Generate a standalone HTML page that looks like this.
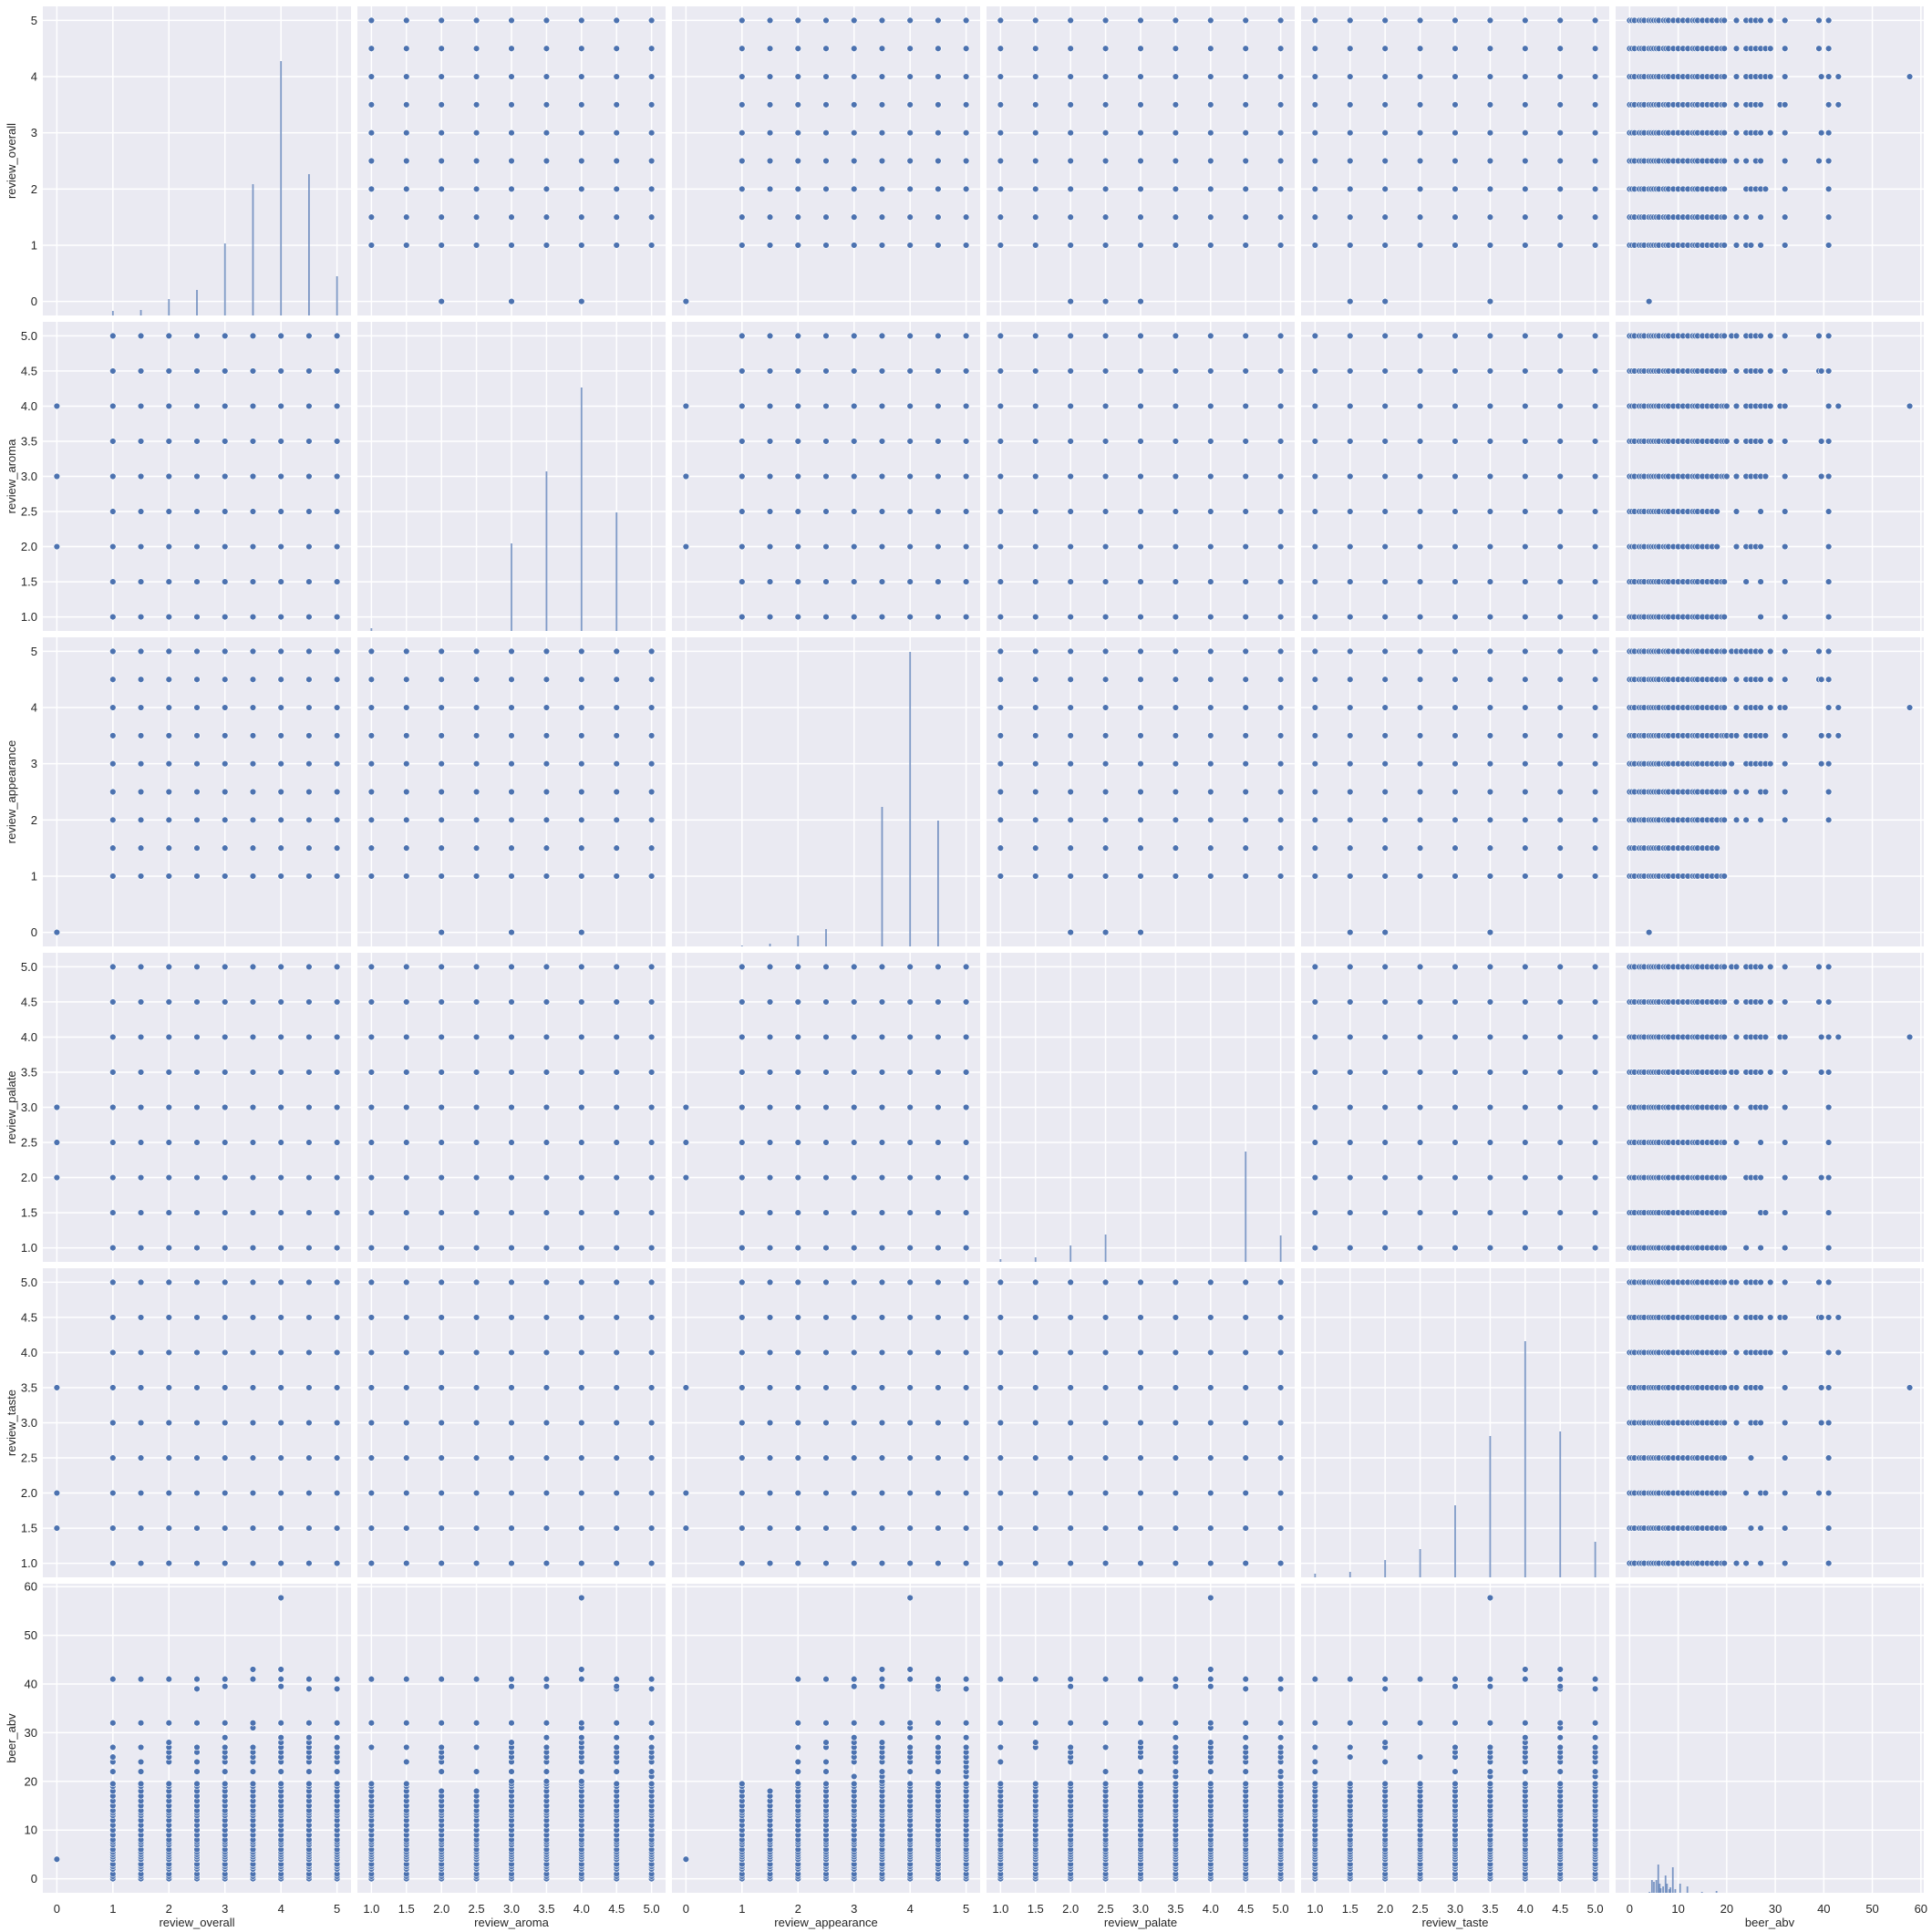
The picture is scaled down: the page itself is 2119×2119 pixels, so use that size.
<!DOCTYPE html>
<html><head><meta charset="utf-8">
<style>
html,body{margin:0;padding:0;background:#fff;}
svg{display:block;}
text{font-family:"Liberation Sans",sans-serif;fill:#262626;}
</style></head>
<body>
<svg id="chart" width="2119" height="2119" viewBox="0 0 2119 2119" xmlns="http://www.w3.org/2000/svg"></svg>
<script>
const varNames = ['review_overall','review_aroma','review_appearance','review_palate','review_taste','beer_abv'];
const domains = [[-0.25,5.25],[0.8,5.2],[-0.25,5.25],[0.8,5.2],[0.8,5.2],[-2.885,60.6]];
const tickVals = [[0,1,2,3,4,5],[1,1.5,2,2.5,3,3.5,4,4.5,5],[0,1,2,3,4,5],[1,1.5,2,2.5,3,3.5,4,4.5,5],[1,1.5,2,2.5,3,3.5,4,4.5,5],[0,10,20,30,40,50,60]];
const tickLabels = [['0','1','2','3','4','5'],['1.0','1.5','2.0','2.5','3.0','3.5','4.0','4.5','5.0'],['0','1','2','3','4','5'],['1.0','1.5','2.0','2.5','3.0','3.5','4.0','4.5','5.0'],['1.0','1.5','2.0','2.5','3.0','3.5','4.0','4.5','5.0'],['0','10','20','30','40','50','60']];
const ratingLevels = [1,1.5,2,2.5,3,3.5,4,4.5,5];
const zeroPairs = [
 [0,1,[[0,2],[0,3],[0,4]]],
 [0,2,[[0,0]]],
 [0,3,[[0,2],[0,2.5],[0,3]]],
 [0,4,[[0,1.5],[0,2],[0,3.5]]],
 [2,1,[[0,2],[0,3],[0,4]]],
 [2,3,[[0,2],[0,2.5],[0,3]]],
 [2,4,[[0,1.5],[0,2],[0,3.5]]]
];
const abvBase = [0,0.5,1,2,2.5,3,4,4.5,5,5.5,6,7,7.5,8,9,10,11,12,13,13.5,14,15,16,17,18,19,19.5];
const abvCap = [
 [20,20,19.5,19.5,20,20,20,20,20],
 [19.5,19.5,18.5,18.5,20,20,20,20,20],
 [19.5,18,20,19.5,20,20,20,20,20],
 [20,19.5,19.5,19.5,20,20,20,20,20],
 [20,20,20,19.5,20,20,20,20,20]
];
const abvExtras = [
 [[22,24,25,27,32,41],[22,24,27,32,41],[24,25,26,27,28,32,41],[22,24,26,27,32,39,41],[22,24,25,26,27,29,32,39.5,41],[22,24,25,26,27,31,32,41,43],[22,24,25,26,27,28,29,32,39.5,41,43,57.7],[22,24,25,26,27,28,29,32,39,41],[22,24,25,26,27,29,32,39,41]],
 [[27,32,41],[24,27,32,41],[22,24,25,26,27,32,41],[22,27,32,41],[20,22,24,25,26,27,28,32,39.5,41],[20,22,24,25,26,27,29,32,39.5,41],[20,22,24,25,26,27,28,29,31,32,41,43,57.7],[22,24,25,26,27,29,32,39,39.5,41],[21,22,24,25,26,27,29,32,39,41]],
 [[],[],[22,24,27,32,41],[22,24,27,28,32,41],[21,24,25,26,27,28,29,32,39.5,41],[20,21,22,24,25,26,27,28,32,39.5,41,43],[22,24,25,26,27,29,31,32,41,43,57.7],[22,24,25,26,27,29,32,39,39.5,41],[21,22,23,24,25,26,27,29,32,39,41]],
 [[24,27,32,41],[27,28,32,41],[24,25,26,27,32,39.5,41],[22,27,32,41],[22,25,26,27,28,32,41],[21,22,24,25,26,27,29,32,39.5,41],[22,24,25,26,27,28,31,32,39.5,41,43,57.7],[22,24,25,26,27,29,32,39,41],[21,22,24,25,26,27,29,32,39,41]],
 [[22,24,27,32,41],[25,27,32,41],[24,27,28,32,39,41],[25,32,41],[22,25,26,27,32,39.5,41],[21,22,24,25,26,27,32,39.5,41,57.7],[22,24,25,26,27,28,29,32,41,43],[22,24,25,26,27,29,31,32,39,39.5,41,43],[21,22,24,25,26,27,29,32,39,41]]
];
const abvZero = [[0,4],[2,4]];
const histX = [
 [1,1.5,2,2.5,3,3.5,4,4.5,5],
 [1,3,3.5,4,4.5],
 [1,1.5,2,2.5,3.5,4,4.5],
 [1,1.5,2,2.5,4.5,5],
 [1,1.5,2,2.5,3,3.5,4,4.5,5],
 [4.1,4.6,5,5.5,5.9,6.2,6.4,6.9,7.4,7.7,8.2,8.4,8.9,9.4,10.4,11.9,14.9,17.9]
];
const histCounts = [
 [5,6,18,28,79,144,279,155,43],
 [3,96,175,267,130],
 [1,3,12,19,153,323,138],
 [3,5,18,30,121,29],
 [4,6,19,31,79,155,259,160,39],
 [1,14,12,14,31,10,5,7,19,10,4,6,28,4,10,7,1,2]
];
const histMax = 339;

const NS = 'http://www.w3.org/2000/svg';
const svg = document.getElementById('chart');
const colX = [47,392,737,1082,1427,1772], PW = 338;
const rowY = [7,353,699,1045,1391,1737], PH = 339;
function mk(tag, attrs, parent){ const e=document.createElementNS(NS,tag); for(const k in attrs) e.setAttribute(k,attrs[k]); (parent||svg).appendChild(e); return e; }
function sx(c,v){ const d=domains[c]; return colX[c] + (v-d[0])/(d[1]-d[0])*PW; }
function sy(r,v){ const d=domains[r]; return rowY[r] + PH - (v-d[0])/(d[1]-d[0])*PH; }
function hy(r,v){ return rowY[r] + PH - v/histMax*PH; }

const panels = [];
for(let r=0;r<6;r++){ panels.push([]); for(let c=0;c<6;c++){
  const g = mk('g',{});
  
  
  const bg = mk('rect',{x:colX[c],y:rowY[r],width:PW,height:PH,fill:'#eaeaf2'},g);
  
  
  tickVals[c].forEach(v=>{ mk('line',{x1:sx(c,v),x2:sx(c,v),y1:rowY[r],y2:rowY[r]+PH,stroke:'#fff','stroke-width':1.5},g); });
  tickVals[r].forEach(v=>{ mk('line',{x1:colX[c],x2:colX[c]+PW,y1:sy(r,v),y2:sy(r,v),stroke:'#fff','stroke-width':1.5},g); });
  panels[r].push(g);
}}
function dot(r,c,xv,yv){
  const e = mk('circle',{cx:sx(c,xv),cy:sy(r,yv),r:3.4,fill:'#4c72b0',stroke:'#fff','stroke-width':0.6},panels[r][c]);
  
  
}
for(let r=0;r<5;r++) for(let c=0;c<5;c++){
  if(r===c) continue;
  ratingLevels.forEach(yv=>ratingLevels.forEach(xv=>dot(r,c,xv,yv)));
}
zeroPairs.forEach(([a,b,pts])=>{
  pts.forEach(([va,vb])=>{ dot(a,b,vb,va); dot(b,a,va,vb); });
});
for(let v=0;v<5;v++){
  ratingLevels.forEach((lv,i)=>{
    const vals = abvBase.filter(x=>x<=abvCap[v][i]).concat(abvExtras[v][i]);
    vals.forEach(a=>{ dot(5,v,lv,a); dot(v,5,a,lv); });
  });
}
abvZero.forEach(([v,a])=>{ dot(5,v,0,a); dot(v,5,a,0); });
for(let d=0;d<6;d++){
  histX[d].forEach((xv,i)=>{
    const b = mk('rect',{x:sx(d,xv)-0.9,y:hy(d,histCounts[d][i]),width:1.8,height:histCounts[d][i]/histMax*PH,fill:'#4c72b0','fill-opacity':0.7},panels[d][d]);
    
    
  });
}
for(let c=0;c<6;c++){
  tickVals[c].forEach((v,i)=>{
    const t = mk('text',{x:sx(c,v),y:2098,'font-size':13,'text-anchor':'middle'});
    t.textContent = tickLabels[c][i];
    
    
  });
  const l = mk('text',{x:colX[c]+PW/2,y:2113,'font-size':13,'text-anchor':'middle'});
  l.textContent = varNames[c];
  
  
}
for(let r=0;r<6;r++){
  tickVals[r].forEach((v,i)=>{
    const t = mk('text',{x:41,y:sy(r,v)+4.5,'font-size':13,'text-anchor':'end'});
    t.textContent = tickLabels[r][i];
    
    
  });
  const cy = rowY[r]+PH/2;
  const l = mk('text',{x:17,y:cy,'font-size':13,'text-anchor':'middle',transform:'rotate(-90 17 '+cy+')'});
  l.textContent = varNames[r];
  
  
}
</script>
</body></html>
